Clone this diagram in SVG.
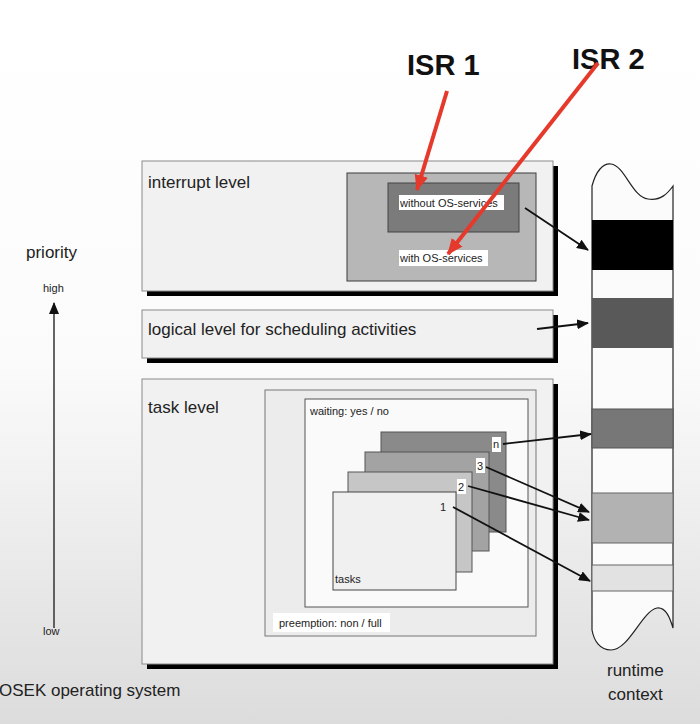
<svg xmlns="http://www.w3.org/2000/svg" width="700" height="724" viewBox="0 0 700 724">
<defs>
<linearGradient id="bg" x1="0" y1="0" x2="0" y2="1">
<stop offset="0" stop-color="#ffffff"/>
<stop offset="0.5" stop-color="#fbfbfb"/>
<stop offset="1" stop-color="#dcdcdc"/>
</linearGradient>
<marker id="ah" viewBox="0 0 12 10" refX="11" refY="5" markerWidth="12" markerHeight="10" markerUnits="userSpaceOnUse" orient="auto">
<path d="M0,0 L12,5 L0,10 Z" fill="#111"/>
</marker>
<marker id="rh" viewBox="0 0 14 12" refX="13" refY="6" markerWidth="16" markerHeight="14" markerUnits="userSpaceOnUse" orient="auto">
<path d="M0,0 L14,6 L0,12 Z" fill="#e5392c"/>
</marker>
</defs>
<style>
.t{font-family:"Liberation Sans",Arial,sans-serif;fill:#222}
.big{font-size:17px}
.sm{font-size:11px}
.isr{font-family:"Liberation Sans",Arial,sans-serif;font-weight:bold;font-size:29px;fill:#111}
.lvl{fill:#f1f1f1;stroke:#8a8a8a;stroke-width:1}
.sh{fill:#000}
.conn{stroke:#111;stroke-width:1.8;fill:none;marker-end:url(#ah)}
.red{stroke:#e5392c;stroke-width:4;fill:none;marker-end:url(#rh)}
.lbl{fill:#ffffff}
</style>
<rect x="0" y="0" width="700" height="724" fill="url(#bg)"/>

<g id="priority">
<text class="t big" x="26" y="258">priority</text>
<text class="t sm" x="43" y="292" font-size="10">high</text>
<line x1="54" y1="628" x2="54" y2="303" stroke="#333" stroke-width="1.5" marker-end="url(#ah)"/>
<text class="t sm" x="43" y="635" font-size="10">low</text>
</g>

<g id="os-label">
<text class="t big" x="-1" y="696">OSEK operating system</text>
</g>

<g id="interrupt-level">
<rect class="sh" x="147" y="166" width="411" height="130"/>
<rect class="lvl" x="142" y="161" width="411" height="130"/>
<text class="t big" x="148" y="188">interrupt level</text>
<rect x="347" y="173" width="189" height="108" fill="#b7b7b7" stroke="#3c3c3c" stroke-width="1"/>
<rect x="388" y="183" width="131" height="49" fill="#7b7b7b" stroke="#444" stroke-width="1"/>
<rect class="lbl" x="399" y="195" width="105" height="15"/>
<text class="t sm" x="400" y="207" font-size="10.5">without OS-services</text>
<rect class="lbl" x="399" y="250" width="89" height="16"/>
<text class="t sm" x="400" y="262">with OS-services</text>
</g>

<g id="logical-level">
<rect class="sh" x="147" y="315" width="411" height="48"/>
<rect class="lvl" x="142" y="310" width="411" height="48"/>
<text class="t big" x="148" y="335">logical level for scheduling activities</text>
</g>

<g id="task-level">
<rect class="sh" x="147" y="384" width="411" height="285"/>
<rect class="lvl" x="142" y="379" width="411" height="285"/>
<text class="t big" x="148" y="413">task level</text>
<rect x="265" y="390" width="271" height="246" fill="#ececec" stroke="#777" stroke-width="1"/>
<rect x="305" y="399" width="223" height="208" fill="#fafafa" stroke="#555" stroke-width="1"/>
<text class="t sm" x="310" y="415">waiting: yes / no</text>
<rect class="lbl" x="273" y="613" width="117" height="19"/>
<text class="t sm" x="279" y="627">preemption: non / full</text>
</g>

<g id="task-n">
<rect x="381" y="432" width="125" height="100" fill="#8a8a8a" stroke="#555" stroke-width="1"/>
<rect class="lbl" x="492" y="437" width="9" height="15"/>
<text class="t sm" x="493" y="448">n</text>
</g>
<g id="task-3">
<rect x="365" y="452" width="124" height="99" fill="#a3a3a3" stroke="#555" stroke-width="1"/>
<rect class="lbl" x="476" y="458" width="9" height="15"/>
<text class="t sm" x="477" y="470">3</text>
</g>
<g id="task-2">
<rect x="348" y="472" width="124" height="100" fill="#c6c6c6" stroke="#555" stroke-width="1"/>
<rect class="lbl" x="457" y="479" width="9" height="15"/>
<text class="t sm" x="458" y="491">2</text>
</g>
<g id="task-1">
<rect x="333" y="492" width="123" height="98" fill="#f0f0f0" stroke="#444" stroke-width="1"/>
<text class="t sm" x="440" y="511">1</text>
<text class="t sm" x="335" y="583">tasks</text>
</g>

<g id="runtime-context">
<path d="M592,186 C596,171 603,163 611,164 C625,166 632,197 648,199 C661,201 668,193 673,186 L673,628 C670,618 666,607 657,608 C642,611 629,650 611,650 C600,650 594,641 592,630 Z" fill="#fbfbfb" stroke="#222" stroke-width="1.2"/>
<rect x="592" y="220" width="81" height="50" fill="#000"/>
<rect x="592" y="298" width="81" height="50" fill="#595959"/>
<rect x="592" y="409" width="81" height="39" fill="#777" stroke="#555" stroke-width="1"/>
<rect x="592" y="493" width="81" height="50" fill="#b2b2b2" stroke="#666" stroke-width="1"/>
<rect x="592" y="565" width="81" height="26" fill="#e2e2e2" stroke="#666" stroke-width="1"/>
<text class="t big" x="607" y="676">runtime</text>
<text class="t big" x="608" y="700">context</text>
</g>

<g id="connectors">
<line class="conn" x1="525" y1="208" x2="588" y2="250"/>
<line class="conn" x1="537" y1="329" x2="588" y2="323"/>
<line class="conn" x1="503" y1="444" x2="591" y2="434"/>
<line class="conn" x1="486" y1="467" x2="589" y2="512"/>
<line class="conn" x1="468" y1="486" x2="589" y2="520"/>
<line class="conn" x1="453" y1="507" x2="590" y2="581"/>
</g>

<g id="isr1">
<text class="isr" x="407" y="75">ISR 1</text>
<line class="red" x1="447" y1="91" x2="417" y2="190"/>
</g>
<g id="isr2">
<text class="isr" x="572" y="69">ISR 2</text>
<line class="red" x1="598" y1="63" x2="448" y2="254"/>
</g>
</svg>
